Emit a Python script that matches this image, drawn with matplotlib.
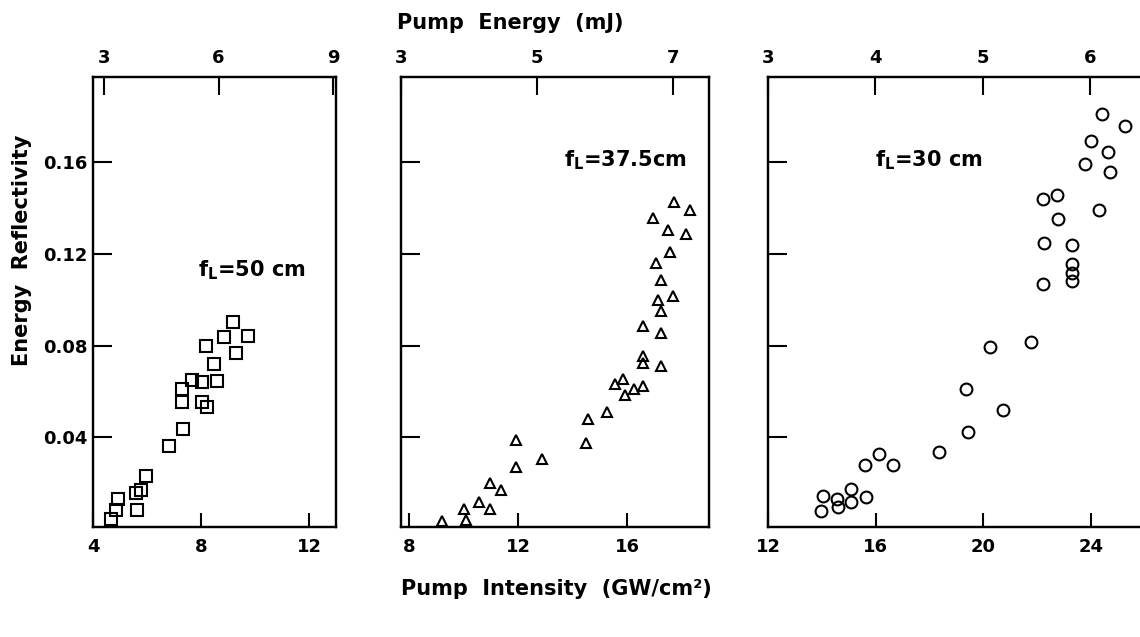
import numpy as np
import matplotlib
matplotlib.use('Agg')
import matplotlib.pyplot as plt

plt.rcParams['font.family'] = 'DejaVu Sans'
plt.rcParams['font.weight'] = 'bold'
plt.rcParams['mathtext.fontset'] = 'dejavusans'

# f_L = 50 cm  (squares)
int50 = [4.65, 4.85, 4.92, 5.62, 5.60, 5.78, 5.96, 6.82, 7.35, 7.29, 7.29,
         7.66, 8.05, 8.04, 8.23, 8.17, 8.48, 8.60, 8.86, 9.18, 9.29, 9.74]
ref50 = [0.0045, 0.0086, 0.0131, 0.0086, 0.0158, 0.0173, 0.0232, 0.0361, 0.0436, 0.0554, 0.0609,
         0.0649, 0.0642, 0.0554, 0.0532, 0.0800, 0.0718, 0.0646, 0.0837, 0.0904, 0.0767, 0.0840]

# f_L = 37.5 cm  (triangles)
int375 = [9.22, 10.08, 10.01, 10.56, 10.98, 10.98, 11.38, 11.92, 11.93, 12.88, 14.50,
          14.57, 15.26, 15.55, 15.84, 15.92, 16.24, 16.56, 16.58, 16.58, 17.24, 16.58,
          17.23, 17.23, 17.11, 17.68, 17.23, 17.06, 17.58, 17.51, 18.17, 16.94, 17.71, 18.31]
ref375 = [0.0035, 0.0039, 0.0088, 0.0117, 0.0088, 0.0200, 0.0170, 0.0270, 0.0390, 0.0306, 0.0378,
          0.0479, 0.0510, 0.0632, 0.0655, 0.0587, 0.0613, 0.0624, 0.0753, 0.0724, 0.0712, 0.0885,
          0.0856, 0.0952, 0.0999, 0.1017, 0.1085, 0.1160, 0.1206, 0.1304, 0.1285, 0.1355, 0.1424, 0.1390]

# f_L = 30 cm  (circles)
int30 = [13.98, 14.04, 14.56, 14.59, 15.08, 15.08, 15.63, 15.60, 16.12, 16.64, 18.34,
         19.45, 19.36, 20.75, 20.25, 21.78, 22.23, 22.26, 22.22, 22.76, 22.77, 23.30,
         23.30, 23.30, 23.30, 23.78, 24.01, 24.40, 24.63, 24.72, 24.31, 25.26]
ref30 = [0.0081, 0.0144, 0.0134, 0.0099, 0.0119, 0.0176, 0.0142, 0.0282, 0.0328, 0.0282, 0.0338,
         0.0422, 0.0609, 0.0521, 0.0793, 0.0817, 0.1068, 0.1246, 0.1437, 0.1456, 0.1351, 0.1240,
         0.1154, 0.1118, 0.1082, 0.1591, 0.1690, 0.1807, 0.1642, 0.1557, 0.1389, 0.1758]

yticks = [0.04, 0.08, 0.12, 0.16]
ylabels = ['0.04', '0.08', '0.12', '0.16']

# per panel: data, marker, size, bottom range/ticks, top (pump energy) range/ticks, label
panels = [
    (int50, ref50, 's', 8.5, (4, 13), [4, 8, 12], (2.71, 9.08), [3, 6, 9],
     r'$\mathbf{f_L}$=50 cm', (0.43, 0.57)),
    (int375, ref375, '^', 7.5, (7.71, 19), [8, 12, 16], (3.03, 7.53), [3, 5, 7],
     r'$\mathbf{f_L}$=37.5cm', (0.53, 0.815)),
    (int30, ref30, 'o', 8.5, (12.04, 26.2), [12, 16, 20, 24], (3.02, 6.56), [3, 4, 5, 6],
     r'$\mathbf{f_L}$=30 cm', (0.28, 0.815)),
]

# axes boxes in figure fraction (third panel runs off the right edge, as in the scan)
boxes = [(0.0816, 0.1727, 0.2132, 0.7064),
         (0.3518, 0.1727, 0.2702, 0.7064),
         (0.6737, 0.1727, 0.3350, 0.7064)]

fig = plt.figure(figsize=(11.4, 6.37), dpi=100)

for i in range(3):
    xs, ys, mk, ms, xlim, xt, tlim, tt, lab, lpos = panels[i]
    ax = fig.add_axes(boxes[i])
    ax.plot(xs, ys, linestyle='none', marker=mk, markersize=ms,
            markerfacecolor='none', markeredgecolor='k', markeredgewidth=1.5)
    ax.set_xlim(xlim)
    ax.set_ylim(0.001, 0.197)
    ax.set_xticks(xt)
    ax.set_xticklabels([str(t) for t in xt])
    ax.set_yticks(yticks)
    if i == 0:
        ax.set_yticklabels(ylabels)
    else:
        ax.set_yticklabels([])
    ax.tick_params(axis='x', direction='in', length=10, width=1.5, pad=8,
                   labelsize=13, top=False)
    ax.tick_params(axis='y', direction='in', length=14, width=1.5, pad=4,
                   labelsize=13, right=False)
    for s in ax.spines.values():
        s.set_linewidth(1.6)
    ax.text(lpos[0], lpos[1], lab, transform=ax.transAxes, fontsize=15,
            fontweight='bold', ha='left', va='center')

    top = ax.twiny()
    top.set_xlim(tlim)
    top.set_xticks(tt)
    top.set_xticklabels([str(t) for t in tt])
    top.tick_params(axis='x', direction='in', length=13, width=1.5, pad=7,
                    labelsize=13)
    for s in top.spines.values():
        s.set_linewidth(1.6)

fig.text(0.019, 0.607, 'Energy  Reflectivity', rotation=90, ha='center', va='center',
         fontsize=15, fontweight='bold')
fig.text(0.448, 0.964, 'Pump  Energy  (mJ)', ha='center', va='center',
         fontsize=15, fontweight='bold')
fig.text(0.488, 0.075, 'Pump  Intensity  (GW/cm²)', ha='center', va='center',
         fontsize=15, fontweight='bold')

plt.savefig('out.png', dpi=100)
